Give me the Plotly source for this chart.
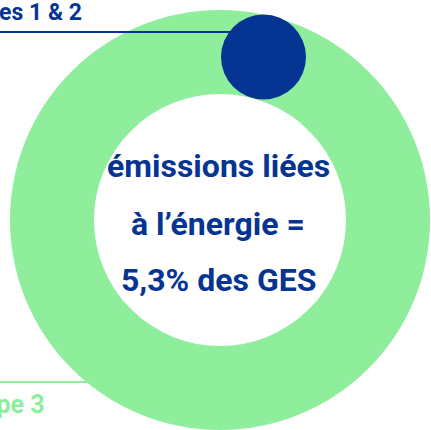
import plotly.graph_objects as go

# ---- data ----
categories = ["Scopes 1 & 2", "Scope 3"]
center_lines = ["émissions liées", "à l’énergie =", "5,3% des GES"]

GREEN = "#8EEE9C"
BLUE = "#063493"
W, H = 431, 430
FONT = "Roboto, Liberation Sans, sans-serif"

# ring geometry (pixels): centre, outer and inner radius
CX, CY, R_OUT, R_IN = 220, 220, 210, 126
R_MID = (R_OUT + R_IN) / 2
RING_W = R_OUT - R_IN

fig = go.Figure()

# Scope 3 leader line
fig.add_trace(go.Scatter(x=[0, 90], y=[382, 382], mode="lines",
                         line=dict(color=GREEN, width=2), hoverinfo="skip", showlegend=False))

# Scope 3 ring
fig.add_trace(go.Scatter(x=[CX], y=[CY], mode="markers",
                         marker=dict(size=2 * R_MID, color="rgba(0,0,0,0)",
                                     line=dict(width=RING_W, color=GREEN)),
                         hoverinfo="skip", showlegend=False))

# Scopes 1 & 2 leader line
fig.add_trace(go.Scatter(x=[0, 240], y=[32, 32], mode="lines",
                         line=dict(color=BLUE, width=2), hoverinfo="skip", showlegend=False))

# Scopes 1 & 2 bubble
fig.add_trace(go.Scatter(x=[263.5], y=[57], mode="markers",
                         marker=dict(size=85, color=BLUE, line=dict(width=0)),
                         hoverinfo="skip", showlegend=False))

ann = []
ann.append(dict(x=84, y=12, xref="x", yref="y", text=f"<b>{categories[0]}</b>", showarrow=False,
                xanchor="right", yanchor="middle", font=dict(family=FONT, size=23, color=BLUE)))
ann.append(dict(x=47, y=404, xref="x", yref="y", text=f"<b>{categories[1]}</b>", showarrow=False,
                xanchor="right", yanchor="middle", font=dict(family=FONT, size=25, color=GREEN)))
centers = [166, 224, 280]
for line, yc in zip(center_lines, centers):
    ann.append(dict(x=218, y=yc, xref="x", yref="y", text=f"<b>{line}</b>", showarrow=False,
                    xanchor="center", yanchor="middle", font=dict(family=FONT, size=32, color=BLUE)))

fig.update_layout(
    width=W, height=H, margin=dict(l=0, r=0, t=0, b=0),
    paper_bgcolor="white", plot_bgcolor="rgba(0,0,0,0)",
    xaxis=dict(range=[0, W], visible=False, fixedrange=True),
    yaxis=dict(range=[H, 0], visible=False, fixedrange=True),
    annotations=ann,
)
fig.write_html("out.html", config={"displayModeBar": False},
               post_script="document.body.style.margin='0';document.body.style.overflow='hidden';")
